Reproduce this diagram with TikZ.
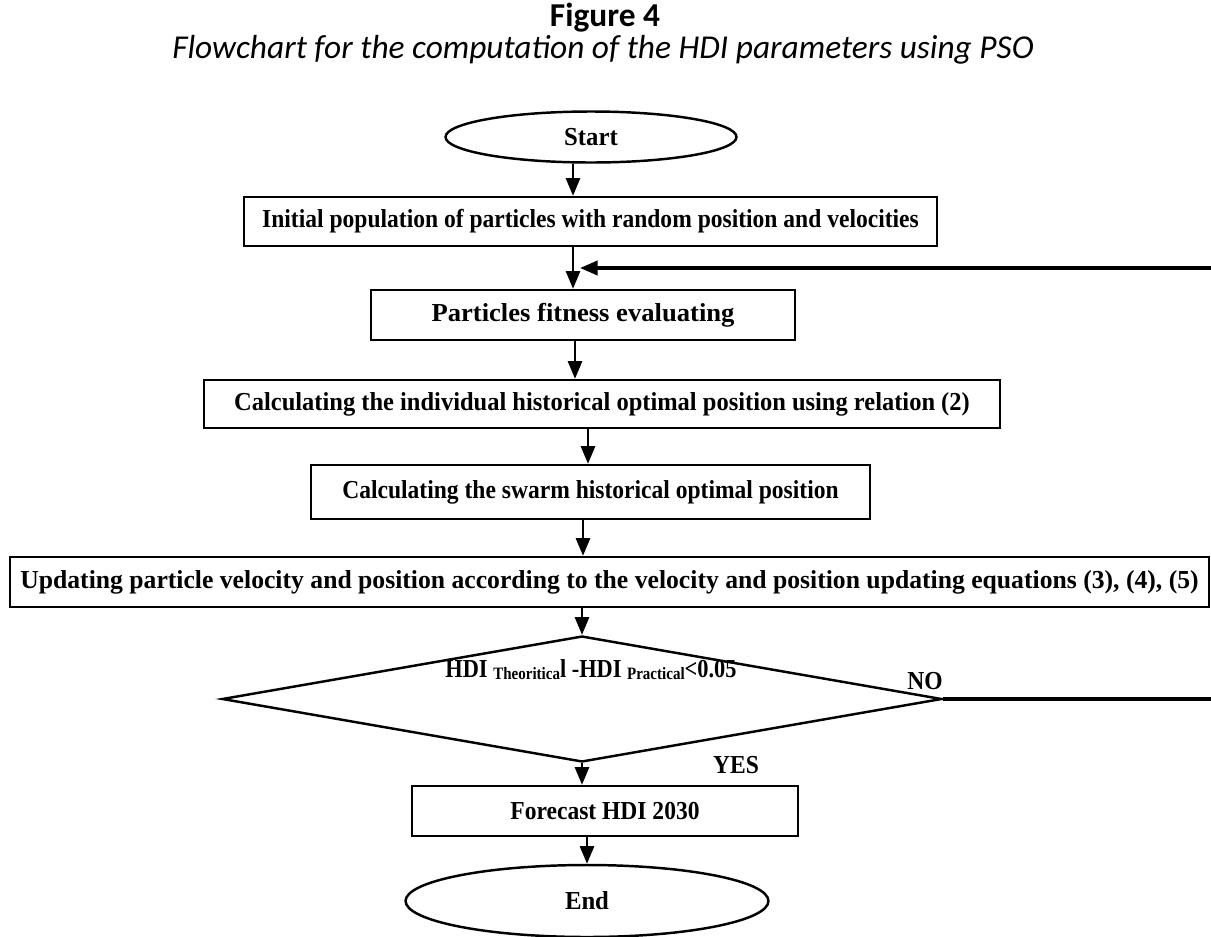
\documentclass[tikz,border=0pt]{standalone}
\usepackage{fontspec}
\setmainfont{Liberation Serif}
\newfontfamily\calib{Carlito}
\usetikzlibrary{shapes.geometric,arrows.meta}
\newcommand\sx[2]{\scalebox{#1}[1.1]{#2}}
\begin{document}
\begin{tikzpicture}[x=0.02cm,y=-0.02cm,
  txt/.style={font=\fontsize{13.4}{16}\selectfont\bfseries},
  box/.style={draw,line width=1.4pt,rectangle,inner sep=0pt,txt},
  oval/.style={draw,line width=1.4pt,ellipse,inner sep=0pt,txt},
  arr/.style={line width=1.3pt,-{Triangle[length=10pt,width=8pt]}},
  thk/.style={line width=2pt}]
\useasboundingbox (0,0) rectangle (1211,937);
\node[font=\calib\bfseries\fontsize{19}{22}\selectfont] (title) at (605,18) {Figure 4};
\node[font=\calib\itshape\fontsize{19}{22}\selectfont] (sub) at (603,50) {Flowchart for the computation of the HDI parameters using PSO};
\node[oval,minimum width=5.82cm,minimum height=1.02cm] (start) at (591,137) {\sx{1.05}{Start}};
\node[box,minimum width=13.86cm,minimum height=0.98cm] (b1) at (590.5,221.5) {\sx{1.0}{Initial population of particles with random position and velocities}};
\node[box,minimum width=8.48cm,minimum height=1.0cm] (b2) at (583,315) {\sx{1.13}{Particles fitness evaluating}};
\node[box,minimum width=15.92cm,minimum height=0.96cm] (b3) at (602,404) {\sx{1.04}{Calculating the individual historical optimal position using relation (2)}};
\node[box,minimum width=11.18cm,minimum height=1.08cm] (b4) at (590.5,492) {\sx{1.0}{Calculating the swarm historical optimal position}};
\node[box,minimum width=23.98cm,minimum height=1.0cm] (b5) at (609.5,582) {\sx{1.09}{Updating particle velocity and position according to the velocity and position updating equations (3), (4), (5)}};
\node[diamond,draw,line width=1.4pt,inner sep=0pt,aspect=5.71,minimum width=14.4cm,minimum height=2.52cm] (dec) at (582,699) {};
\node[txt] (dect) at (591,670) {\sx{0.95}{HDI \raisebox{-1pt}{\fontsize{9}{10}\selectfont Theoritica}l -HDI \raisebox{-1pt}{\fontsize{9}{10}\selectfont Practical}<0.05}};
\node[txt] (no) at (925,681) {\sx{1.0}{NO}};
\node[txt] (yes) at (736,765) {\sx{1.0}{YES}};
\node[box,minimum width=7.72cm,minimum height=1.0cm] (fc) at (605,811) {\sx{1.0}{Forecast HDI 2030}};
\node[oval,minimum width=7.26cm,minimum height=1.44cm] (end) at (587,901) {\sx{1.05}{End}};
\coordinate (xa) at (573,0);
\coordinate (xb) at (575,0);
\coordinate (xc) at (588,0);
\coordinate (xd) at (583,0);
\coordinate (rtop) at (1211,268);
\coordinate (rbot) at (1211,699);
\coordinate (lq) at (580,268);
\draw[arr] (start.south -| xa) -- (b1.north -| xa);
\draw[arr] (b1.south -| xa) -- (b2.north -| xa);
\draw[arr] (b2.south -| xb) -- (b3.north -| xb);
\draw[arr] (b3.south -| xc) -- (b4.north -| xc);
\draw[arr] (b4.south -| xd) -- (b5.north -| xd);
\draw[arr] (b5.south -| dec.north) -- (dec.north);
\draw[arr] (dec.south) -- (fc.north -| dec.south);
\draw[arr] (fc.south -| end.north) -- (end.north);
\draw[thk] (dec.east) -- (rbot);
\draw[thk,-{Triangle[length=10pt,width=8pt]}] (rtop) -- (lq);
\end{tikzpicture}
\end{document}
